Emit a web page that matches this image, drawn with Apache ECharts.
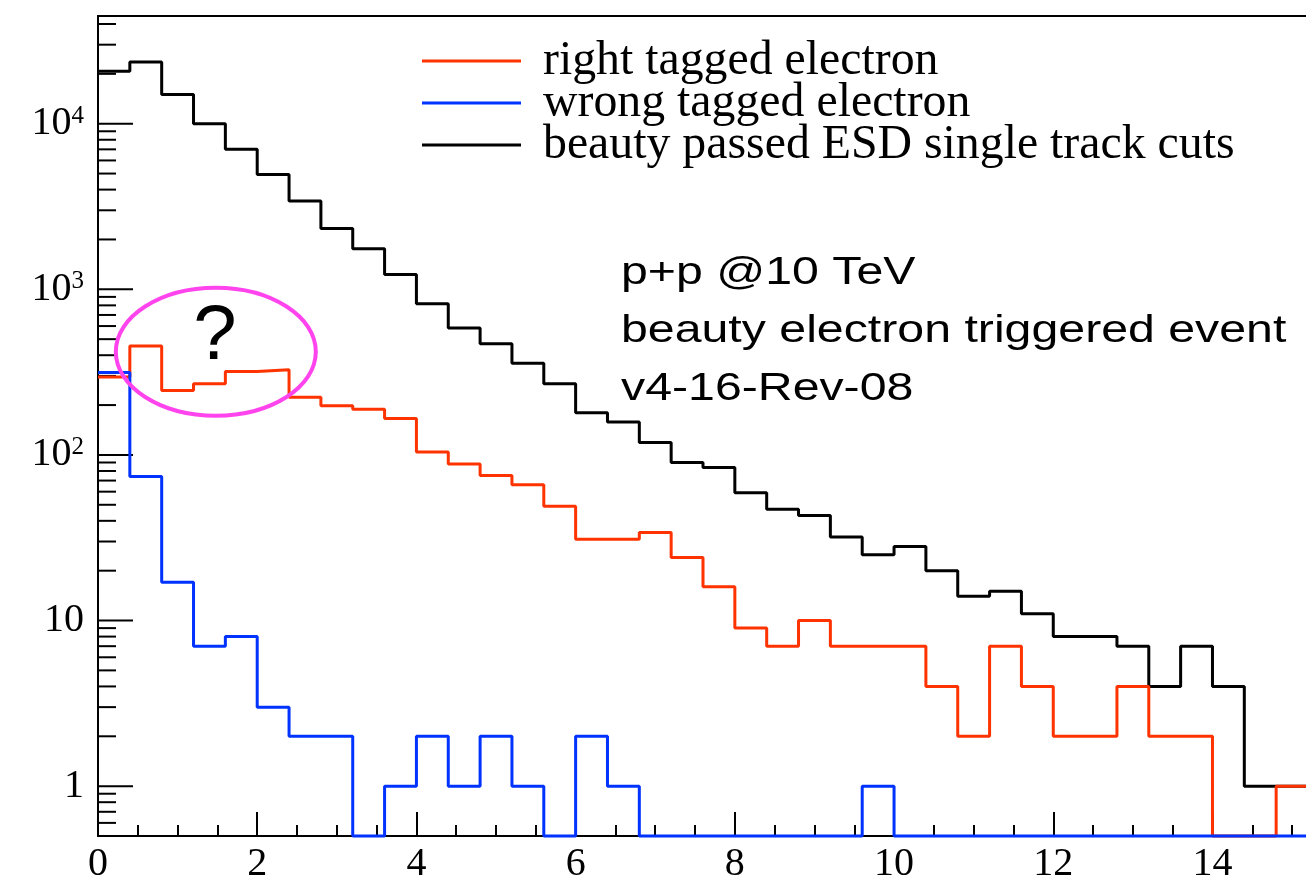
<!DOCTYPE html>
<html>
<head>
<meta charset="utf-8">
<script src="https://cdn.jsdelivr.net/npm/echarts@6/dist/echarts.min.js"></script>
<style>
html, body { margin: 0; padding: 0; background: #fff; }
#chart { width: 1306px; height: 876px; }
</style>
</head>
<body>
<div id="chart"></div>
<script>
// histogram: 38 bins of 0.4 starting at 0
var binWidth = 0.4;
var xMin = 0, xMax = 15.2;
var yMin = 0.5, yMax = 44700;

var seriesNames = ['right tagged electron', 'wrong tagged electron', 'beauty passed ESD single track cuts'];

var rightTagged = [295, 454, 245, 269, 319, 327, 223, 198, 189, 166,
                   104, 88, 75, 66, 49, 31, 31, 34, 24, 16,
                   9, 7, 10, 7, 7, 7, 4, 2, 7, 4,
                   2, 2, 4, 2, 2, 0, 0, 1];
var wrongTagged = [315, 74, 17, 7, 8, 3, 2, 2, 0, 1,
                   2, 1, 2, 1, 0, 2, 1, 0, 0, 0,
                   0, 0, 0, 0, 1, 0, 0, 0, 0, 0,
                   0, 0, 0, 0, 0, 0, 0, 0];
var beautyPassed = [20700, 23600, 15000, 10000, 7000, 4940, 3410, 2330, 1760, 1230,
                    819, 583, 469, 358, 269, 180, 158, 119, 90, 84,
                    59, 47, 43, 32, 25, 28, 20, 14, 15, 11,
                    8, 8, 7, 4, 7, 4, 1, 1];

// log axis ticks (ROOT style: majors at decades, minors at 2..9)
var decades = [0.1, 1, 10, 100, 1000, 10000];
var minorSteps = [2, 3, 4, 5, 6, 7, 8, 9];

var infoLines = ['p+p @10 TeV', 'beauty electron triggered event', 'v4-16-Rev-08'];

function histPoints(vals) {
  // zero bins sit on the bottom of the log axis
  var pts = vals.map(function (v, i) {
    return [+(i * binWidth).toFixed(2), v > 0 ? v : yMin];
  });
  var last = vals[vals.length - 1];
  pts.push([+(vals.length * binWidth).toFixed(2), last > 0 ? last : yMin]);
  return pts;
}

var yTicks = [];
decades.forEach(function (d) {
  if (d >= yMin && d <= yMax) yTicks.push([0, d, 1]);
  minorSteps.forEach(function (m) {
    var v = +(d * m).toPrecision(3);
    if (v >= yMin && v <= yMax) yTicks.push([0, v, 0]);
  });
});

function lineSeries(name, vals, color) {
  return {
    name: name,
    type: 'line',
    step: 'end',
    showSymbol: false,
    clip: false,
    data: histPoints(vals),
    lineStyle: { color: color, width: 3 },
    itemStyle: { color: color }
  };
}

var chart = echarts.init(document.getElementById('chart'));

var option = {
  animation: false,
  backgroundColor: '#fff',
  grid: {
    left: 98, top: 16, right: -2, bottom: 40,
    outerBoundsMode: 'none',
    containLabel: false,
    show: true, borderColor: '#000', borderWidth: 2
  },
  legend: {
    orient: 'vertical',
    left: 422, top: 37,
    padding: 0,
    itemWidth: 99, itemHeight: 3, itemGap: -6,
    icon: 'rect',
    selectedMode: false,
    textStyle: {
      fontFamily: 'Liberation Serif', fontSize: 47.8, color: '#000',
      padding: [0, 0, 0, 17]
    },
    data: seriesNames
  },
  xAxis: {
    type: 'value', min: xMin, max: xMax, interval: 2,
    axisLine: { lineStyle: { color: '#000', width: 2 } },
    axisTick: { inside: true, length: 24, lineStyle: { color: '#000', width: 2 } },
    minorTick: { show: true, splitNumber: 4, length: 11, lineStyle: { color: '#000', width: 2 } },
    splitLine: { show: false },
    axisLabel: {
      fontFamily: 'Liberation Serif', fontSize: 40, color: '#000', margin: 8,
      formatter: function (v) { return Math.abs(v % 2) < 1e-6 ? String(v) : ''; }
    }
  },
  yAxis: {
    type: 'log', logBase: 10, min: yMin, max: yMax,
    axisLine: { lineStyle: { color: '#000', width: 2 } },
    axisTick: { show: false },
    splitLine: { show: false },
    axisLabel: {
      margin: 14,
      formatter: function (v) {
        var lg = Math.log10(v);
        var e = Math.round(lg);
        if (Math.abs(lg - e) > 1e-6) return '';
        if (e === 0) return '{n|1}';
        if (e === 1) return '{n|10}';
        return '{n|10}{s|' + e + '}';
      },
      rich: {
        n: { fontFamily: 'Liberation Serif', fontSize: 40, color: '#000', lineHeight: 40 },
        s: { fontFamily: 'Liberation Serif', fontSize: 25, color: '#000', lineHeight: 40, verticalAlign: 'top' }
      }
    }
  },
  series: [
    lineSeries(seriesNames[2], beautyPassed, '#000000'),
    lineSeries(seriesNames[0], rightTagged, '#ff3300'),
    lineSeries(seriesNames[1], wrongTagged, '#0033ff'),
    {
      type: 'custom',
      silent: true,
      clip: false,
      data: yTicks,
      renderItem: function (params, api) {
        var p = api.coord([api.value(0), api.value(1)]);
        var len = api.value(2) ? 35 : 18;
        return {
          type: 'line',
          shape: { x1: p[0], y1: p[1], x2: p[0] + len, y2: p[1] },
          style: { stroke: '#000', lineWidth: 2 }
        };
      }
    }
  ]
};

chart.setOption(option);

// annotations: info text and the highlighted region
var c = chart.convertToPixel({ gridIndex: 0 }, [1.48, 420]);
var graphics = [
  {
    type: 'ellipse',
    shape: { cx: c[0], cy: c[1], rx: 100, ry: 64 },
    style: { stroke: '#ff44ee', lineWidth: 4, fill: 'none' },
    z: 10
  },
  {
    type: 'text', x: c[0] - 1, y: 298,
    style: { text: '?', font: '78px "Liberation Sans"', fill: '#000', align: 'center', verticalAlign: 'top' },
    z: 10
  }
];
infoLines.forEach(function (t, i) {
  graphics.push({
    type: 'text', x: 621, y: 255 + i * 58, scaleX: 1.27,
    style: { text: t, font: '38px "Liberation Sans"', fill: '#000', align: 'left', verticalAlign: 'top' },
    z: 10
  });
});
chart.setOption({ graphic: graphics });
</script>
</body>
</html>
